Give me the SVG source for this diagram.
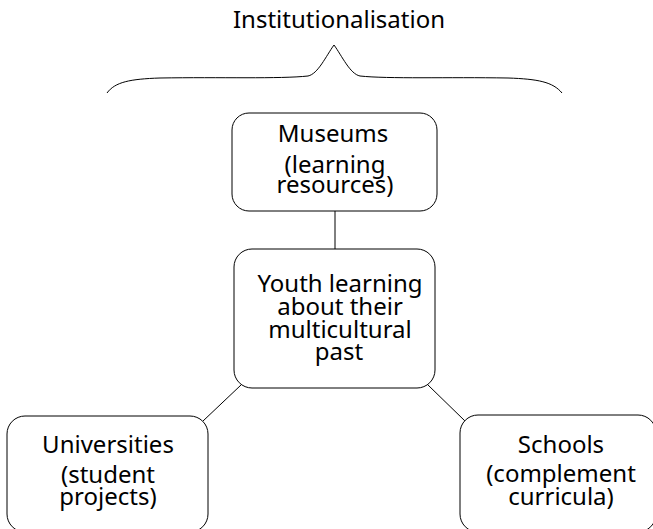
<svg xmlns="http://www.w3.org/2000/svg" width="653" height="529" viewBox="0 0 653 529">
<style>
.box{fill:#fff;stroke:#000;stroke-width:1}
.t{font-family:"Noto Sans","Open Sans",sans-serif;font-size:24px;fill:#000;text-anchor:middle}
.c{stroke:#000;stroke-width:1;fill:none}
</style>
<rect width="653" height="529" fill="#fff"/>
<g id="title">
<text class="t" x="339" y="28">Institutionalisation</text>
<path class="c" d="M107,93 C115,82 130,79 160,78 C220,77 280,79 308,76 C318,74 326,56 334,45 C342,56 350,74 360,76 C388,79 448,77 508,78 C538,79 553,82 562,93"/>
</g>
<g id="connectors">
<line class="c" x1="335" y1="211" x2="335" y2="249"/>
<line class="c" x1="203" y1="421" x2="241" y2="385"/>
<line class="c" x1="428" y1="385" x2="465" y2="421"/>
</g>
<g id="museums">
<rect class="box" x="232" y="113" width="205" height="98" rx="17"/>
<text class="t" x="333" y="142">Museums</text>
<text class="t" x="335" y="173">(learning</text>
<text class="t" x="335" y="193">resources)</text>
</g>
<g id="youth">
<rect class="box" x="234" y="249" width="201" height="139" rx="18"/>
<text class="t" x="340" y="292">Youth learning</text>
<text class="t" x="340" y="315">about their</text>
<text class="t" x="340" y="338">multicultural</text>
<text class="t" x="339" y="360">past</text>
</g>
<g id="universities">
<rect class="box" x="7" y="416" width="201" height="116" rx="18"/>
<text class="t" x="108" y="453">Universities</text>
<text class="t" x="108" y="483">(student</text>
<text class="t" x="108" y="505">projects)</text>
</g>
<g id="schools">
<rect class="box" x="460" y="415" width="196" height="117" rx="18"/>
<text class="t" x="561" y="453">Schools</text>
<text class="t" x="561" y="482">(complement</text>
<text class="t" x="561" y="505">curricula)</text>
</g>
</svg>
